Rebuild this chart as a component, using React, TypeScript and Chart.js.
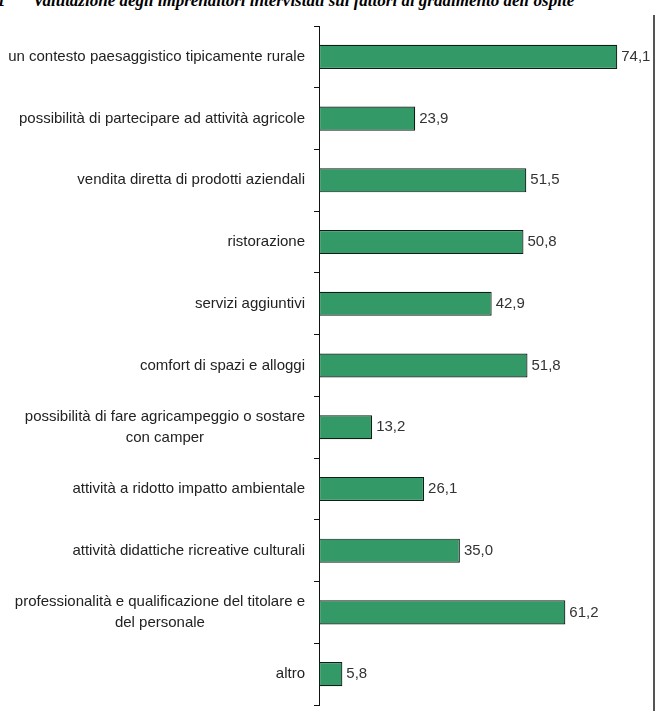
import React, { useEffect, useRef } from "react";
import { Chart, registerables } from "chart.js";

Chart.register(...registerables);

const categories: string[] = [
  "un contesto paesaggistico tipicamente rurale",
  "possibilità di partecipare ad attività agricole",
  "vendita diretta di prodotti aziendali",
  "ristorazione",
  "servizi aggiuntivi",
  "comfort di spazi e alloggi",
  "possibilità di fare agricampeggio o sostare\ncon camper",
  "attività a ridotto impatto ambientale",
  "attività didattiche ricreative culturali",
  "professionalità e qualificazione del titolare e\ndel personale",
  "altro",
];

const values: number[] = [74.1, 23.9, 51.5, 50.8, 42.9, 51.8, 13.2, 26.1, 35.0, 61.2, 5.8];

const titleNumber = "1";
const titleText = "Valutazione degli imprenditori intervistati sui fattori di gradimento dell'ospite";

const FONT = "15px 'Liberation Sans', Arial, sans-serif";

const labelsPlugin = {
  id: "customLabels",
  afterDraw(chart: any) {
    const ctx = chart.ctx;
    const yScale = chart.scales.y;
    const area = chart.chartArea;
    ctx.save();
    ctx.font = FONT;
    ctx.fillStyle = "#222222";
    ctx.textBaseline = "middle";
    ctx.textAlign = "center";
    const lh = 21;
    categories.forEach((cat, i) => {
      const lines = cat.split("\n");
      const maxW = Math.max(...lines.map((l) => ctx.measureText(l).width));
      const cx = area.left - 14 - maxW / 2;
      const y = yScale.getPixelForValue(i);
      const start = y - ((lines.length - 1) * lh) / 2;
      lines.forEach((l, j) => ctx.fillText(l, cx, start + j * lh));
    });
    const meta = chart.getDatasetMeta(0);
    ctx.textAlign = "left";
    ctx.fillStyle = "#333333";
    meta.data.forEach((el: any, i: number) => {
      const txt = values[i].toFixed(1).replace(".", ",");
      ctx.fillText(txt, el.x + 4, el.y);
    });
    ctx.restore();
  },
};

export default function App() {
  const ref = useRef<HTMLCanvasElement | null>(null);
  useEffect(() => {
    if (!ref.current) return;
    const chart = new Chart(ref.current, {
      type: "bar",
      data: {
        labels: categories,
        datasets: [
          {
            data: values,
            backgroundColor: "#339966",
            borderColor: "#0f1f16",
            borderWidth: 1.2,
            borderSkipped: false,
            barPercentage: 0.39,
            categoryPercentage: 1,
          },
        ],
      },
      options: {
        indexAxis: "y",
        animation: false,
        responsive: false,
        devicePixelRatio: 1,
        layout: { padding: { left: 314, right: 16, top: 26, bottom: 6 } },
        plugins: { legend: { display: false }, tooltip: { enabled: false }, title: { display: false } },
        scales: {
          x: { display: false, min: 0, max: 80 },
          y: {
            position: "left",
            ticks: { display: false },
            grid: {
              offset: true,
              drawOnChartArea: false,
              drawTicks: true,
              tickLength: 5,
              color: "#111111",
            },
            border: { display: true, color: "#111111", width: 1 },
            afterFit: (s: any) => {
              s.width = 5;
            },
          },
        },
      },
      plugins: [labelsPlugin],
    });
    return () => chart.destroy();
  }, []);
  const titleFont = "italic bold 17px 'Liberation Serif', 'Times New Roman', serif";
  return (
    <div style={{ position: "absolute", left: 0, top: 0, width: 657, height: 711, overflow: "hidden", background: "#fff" }}>
      <div
        style={{
          position: "absolute",
          left: -3,
          top: -8,
          font: titleFont,
          lineHeight: "17px",
          whiteSpace: "nowrap",
          color: "#000",
        }}
      >
        {titleNumber}
      </div>
      <div
        style={{
          position: "absolute",
          left: 33,
          top: -8,
          font: titleFont,
          lineHeight: "17px",
          whiteSpace: "nowrap",
          color: "#000",
        }}
      >
        {titleText}
      </div>
      <canvas ref={ref} width={657} height={711} style={{ position: "absolute", left: 0, top: 0 }} />
      <div style={{ position: "absolute", left: 653, top: 15, width: 2, height: 696, background: "#555" }} />
    </div>
  );
}
